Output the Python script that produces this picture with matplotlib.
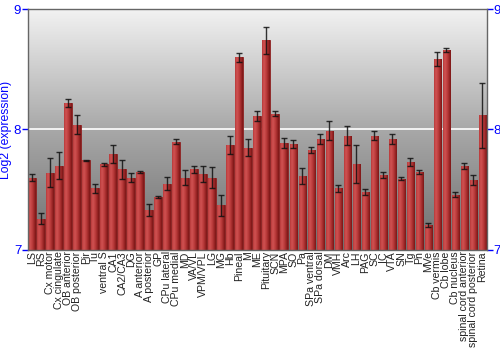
import numpy as np
import matplotlib
matplotlib.use("Agg")
import matplotlib.pyplot as plt
from matplotlib.colors import LinearSegmentedColormap

plt.rcParams['font.family'] = ['Liberation Sans', 'DejaVu Sans']

categories = ["LS", "RS", "Cx motor", "Cx cingulate", "OB anterior", "OB posterior", "Pir", "Tu",
              "ventral S", "CA1", "CA2/CA3", "DG", "A anterior", "A posterior", "GP", "CPu lateral",
              "CPu medial", "MD", "VA/VL", "VPM/VPL", "LG", "MG", "Hb", "Pineal", "M", "ME",
              "Pituitary", "SCN", "MPA", "SO", "Pa", "SPa ventral", "SPa dorsal", "DM", "VMH", "Arc",
              "LH", "PAG", "SC", "IC", "VTA", "SN", "Tg", "Pn", "MVe", "Cb vermis", "Cb lobe",
              "Cb nucleus", "spinal cord anterior", "spinal cord posterior", "Retina"]

values = [7.60, 7.26, 7.64, 7.70, 8.22, 8.04, 7.745, 7.51,
          7.71, 7.80, 7.67, 7.60, 7.645, 7.33, 7.44, 7.55,
          7.90, 7.60, 7.67, 7.63, 7.60, 7.37, 7.87, 8.60, 7.85, 8.11,
          8.74, 8.13, 7.89, 7.88, 7.615, 7.83, 7.92, 7.99, 7.51, 7.95,
          7.715, 7.48, 7.95, 7.62, 7.92, 7.59, 7.73, 7.65, 7.21, 8.585, 8.66,
          7.46, 7.70, 7.58, 8.12]

errors = [0.03, 0.045, 0.12, 0.11, 0.03, 0.08, 0.005, 0.04,
          0.015, 0.075, 0.08, 0.04, 0.01, 0.05, 0.007, 0.055,
          0.018, 0.065, 0.03, 0.07, 0.09, 0.085, 0.073, 0.036, 0.072, 0.04,
          0.11, 0.02, 0.04, 0.03, 0.067, 0.028, 0.04, 0.078, 0.028, 0.08,
          0.16, 0.022, 0.037, 0.025, 0.043, 0.012, 0.037, 0.017, 0.017, 0.057, 0.02,
          0.022, 0.024, 0.043, 0.27]

y_ticks = [7, 8, 9]
y_label = "Log2 (expression)"

fig = plt.figure(figsize=(5, 3.5), dpi=100)
ax = fig.add_axes([0.055, 0.286, 0.919, 0.688])

x = np.arange(len(categories))
ymin, ymax = 7, 9
ax.set_xlim(-0.5, len(categories) - 0.5)
ax.set_ylim(ymin, ymax)

# background gradient
bg = LinearSegmentedColormap.from_list("bg", ["#6e6e6e", "#a8a8a8", "#f2f2f2"])
grad = np.linspace(0, 1, 256).reshape(-1, 1)
ax.imshow(grad, cmap=bg, aspect='auto', origin='lower',
          extent=[-0.5, len(categories) - 0.5, ymin, ymax], zorder=0)

ax.axhline(8, color='white', lw=1.2, zorder=1)

bar_cmap = LinearSegmentedColormap.from_list("bar", ["#b83a3a", "#d05252", "#c04040", "#a22a2a", "#7a1616"])
hgrad = np.linspace(0, 1, 64).reshape(1, -1)
width = 0.84
bars = ax.bar(x, np.array(values) - ymin, bottom=ymin, width=width, color='#b83838',
              edgecolor='#8a2020', linewidth=0.6, zorder=2)
for b in bars:
    x0, y0 = b.get_x(), b.get_y()
    w, h = b.get_width(), b.get_height()
    im = ax.imshow(hgrad, cmap=bar_cmap, aspect='auto', extent=[x0, x0 + w, y0, y0 + h], zorder=2.5)
    im.set_clip_path(b)

ax.errorbar(x, values, yerr=errors, fmt='none', ecolor='#111111', elinewidth=1.0,
            capsize=2.2, capthick=1.0, alpha=0.85, zorder=3)

ax.set_xticks(x)
ax.set_xticklabels(categories, rotation=90, fontsize=7.6, color='#222222')
ax.tick_params(axis='x', length=0, pad=1)

ax.set_yticks(y_ticks)
ax.set_yticklabels([str(t) for t in y_ticks])
ax.tick_params(axis='y', colors='#0000ff', labelsize=9.5, length=4, width=1, pad=0.5,
               left=True, right=True, labelleft=True, labelright=True)
ax.set_ylabel(y_label, color='#0000ff', fontsize=8.8, va='center')
ax.yaxis.set_label_coords(-0.046, 0.5)

for s in ax.spines.values():
    s.set_color('#666666')
    s.set_linewidth(1)
    s.set_zorder(4)

fig.savefig("out.png", dpi=100)
